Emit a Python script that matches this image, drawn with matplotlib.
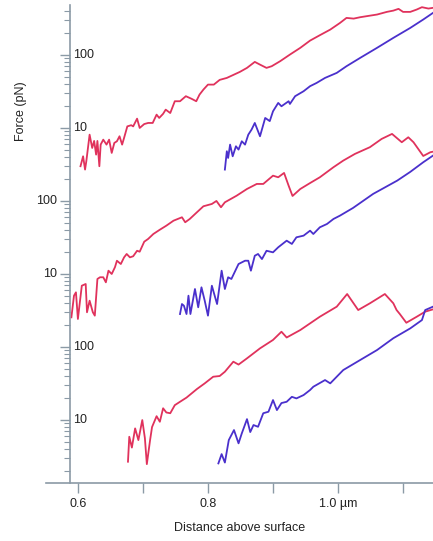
import numpy as np
import matplotlib
matplotlib.use("Agg")
import matplotlib.pyplot as plt
from matplotlib.ticker import FixedLocator, LogLocator, NullFormatter

plt.rcParams['font.family'] = ['Liberation Sans Narrow', 'Liberation Sans', 'DejaVu Sans']

# distance above surface (um) and force (pN) for each trace
top_red_x = [0.604, 0.608, 0.611, 0.613, 0.618, 0.622, 0.625, 0.628, 0.630, 0.633,
             0.635, 0.639, 0.644, 0.648, 0.652, 0.656, 0.660, 0.664, 0.668, 0.671,
             0.676, 0.682, 0.685, 0.691, 0.695, 0.702, 0.708, 0.715, 0.721, 0.725,
             0.731, 0.735, 0.742, 0.749, 0.757, 0.766, 0.775, 0.782, 0.787, 0.793,
             0.800, 0.809, 0.818, 0.829, 0.839, 0.849, 0.860, 0.872, 0.880, 0.890,
             0.898, 0.911, 0.926, 0.942, 0.957, 0.972, 0.988, 1.003, 1.013, 1.024,
             1.034, 1.044, 1.060, 1.075, 1.085, 1.093, 1.100, 1.111, 1.121, 1.129,
             1.139, 1.146]
top_red_f = [2.99, 4.09, 2.69, 3.53, 8.09, 5.32, 6.64, 4.31, 6.64, 2.99,
             5.91, 6.91, 5.91, 6.91, 4.55, 6.23, 6.57, 7.69, 5.91, 7.30,
             10.5, 10.9, 10.5, 13.4, 10.0, 11.3, 11.7, 11.7, 15.2, 13.7,
             15.6, 17.8, 16.0, 23.2, 23.2, 27.2, 25.0, 23.2, 28.6, 33.5,
             39.2, 39.2, 45.5, 48.4, 53.2, 58.5, 66.4, 80.2, 73.6, 66.4,
             70.0, 82.0, 101, 125, 157, 186, 222, 274, 321, 314,
             328, 339, 357, 388, 404, 427, 388, 388, 418, 450,
             431, 441]

top_blue_x = [0.826, 0.829, 0.831, 0.834, 0.838, 0.843, 0.847, 0.852, 0.857, 0.862,
              0.867, 0.872, 0.880, 0.888, 0.895, 0.900, 0.908, 0.913, 0.924, 0.926,
              0.934, 0.947, 0.957, 0.967, 0.980, 0.998, 1.013, 1.034, 1.060, 1.085,
              1.111, 1.131, 1.146]
top_blue_f = [2.69, 4.80, 3.88, 5.91, 4.09, 5.61, 5.05, 6.57, 5.91, 8.09,
              9.48, 11.7, 7.69, 13.7, 12.4, 16.9, 22.0, 19.8, 23.2, 21.3,
              27.2, 31.8, 37.3, 41.3, 48.4, 56.7, 70.0, 91.0, 125, 171,
              234, 305, 376]

mid_red_x = [0.590, 0.594, 0.597, 0.600, 0.606, 0.612, 0.614, 0.618, 0.623, 0.626,
             0.630, 0.634, 0.639, 0.643, 0.647, 0.652, 0.657, 0.660, 0.666, 0.671,
             0.675, 0.680, 0.685, 0.691, 0.695, 0.702, 0.708, 0.716, 0.726, 0.736,
             0.747, 0.760, 0.765, 0.772, 0.783, 0.793, 0.806, 0.813, 0.820, 0.826,
             0.844, 0.860, 0.875, 0.885, 0.900, 0.908, 0.917, 0.924, 0.930, 0.942,
             0.957, 0.972, 0.993, 1.008, 1.026, 1.049, 1.067, 1.083, 1.098, 1.108,
             1.116, 1.131, 1.142, 1.146]
mid_red_f = [2.55, 5.05, 5.61, 2.42, 6.91, 7.30, 2.99, 4.31, 2.99, 2.69,
             8.55, 9.02, 9.02, 7.69, 11.1, 10.0, 12.4, 15.2, 13.7, 16.9,
             18.8, 16.9, 17.5, 20.8, 20.2, 27.7, 30.2, 35.3, 40.4, 45.9,
             53.7, 59.8, 51.1, 56.7, 70.0, 84.6, 91.0, 100, 82.0, 95.9,
             118, 146, 171, 171, 222, 211, 242, 162, 117, 146,
             176, 211, 290, 357, 441, 545, 707, 828, 637, 745,
             637, 413, 465, 473]

mid_blue_x = [0.757, 0.760, 0.763, 0.767, 0.770, 0.773, 0.780, 0.785, 0.790, 0.795,
              0.800, 0.806, 0.811, 0.814, 0.821, 0.826, 0.831, 0.836, 0.847, 0.857,
              0.862, 0.866, 0.872, 0.877, 0.883, 0.890, 0.900, 0.908, 0.921, 0.929,
              0.936, 0.947, 0.957, 0.962, 0.972, 0.983, 0.993, 1.003, 1.023, 1.054,
              1.091, 1.111, 1.131, 1.146]
mid_blue_f = [2.83, 3.88, 3.68, 2.83, 5.05, 2.83, 6.23, 3.50, 6.57, 4.31,
              2.69, 6.91, 4.80, 3.88, 11.1, 6.23, 9.02, 8.55, 13.7, 15.2,
              15.2, 11.1, 17.8, 18.8, 16.0, 20.8, 19.8, 23.2, 28.6, 25.8,
              31.8, 33.5, 39.2, 35.3, 43.6, 48.4, 56.7, 63.0, 80.2, 125,
              190, 250, 339, 418]

low_red_x = [0.677, 0.679, 0.683, 0.688, 0.693, 0.699, 0.703, 0.706, 0.711, 0.714,
             0.721, 0.726, 0.731, 0.736, 0.742, 0.749, 0.757, 0.767, 0.783, 0.795,
             0.808, 0.818, 0.826, 0.839, 0.847, 0.860, 0.880, 0.900, 0.913, 0.921,
             0.942, 0.972, 0.998, 1.014, 1.031, 1.049, 1.072, 1.085, 1.090, 1.095,
             1.105, 1.121, 1.134, 1.146]
low_red_f = [2.69, 5.91, 4.20, 7.69, 5.32, 10.0, 5.66, 2.49, 5.32, 8.02,
             11.3, 9.48, 14.5, 12.7, 12.4, 16.0, 17.8, 20.3, 26.6, 31.8,
             39.2, 40.1, 45.9, 63.0, 57.5, 70.0, 95.9, 125, 162, 135,
             171, 260, 357, 532, 321, 397, 532, 397, 321, 283,
             215, 260, 305, 328]

low_blue_x = [0.816, 0.821, 0.826, 0.832, 0.840, 0.847, 0.852, 0.860, 0.865, 0.870,
              0.877, 0.885, 0.893, 0.900, 0.906, 0.913, 0.921, 0.929, 0.936, 0.947,
              0.957, 0.962, 0.980, 0.988, 1.008, 1.034, 1.060, 1.085, 1.111, 1.129,
              1.134, 1.146]
low_blue_f = [2.55, 3.42, 2.62, 5.32, 7.30, 4.80, 6.57, 10.3, 6.85, 8.55,
              8.09, 12.4, 13.0, 18.8, 13.7, 17.1, 17.8, 20.8, 19.8, 22.0,
              25.8, 28.6, 35.3, 31.8, 48.4, 66.4, 91.0, 132, 180, 234,
              321, 357]

x_ticks = [0.6, 0.7, 0.8, 0.9, 1.0, 1.1]
x_tick_labels = ['0.6', '', '0.8', '', '1.0 µm', '']

# each panel is stacked two decades above the one below it
panel_shift = [1e4, 1e2, 1]
panels = [(top_red_x, top_red_f, top_blue_x, top_blue_f),
          (mid_red_x, mid_red_f, mid_blue_x, mid_blue_f),
          (low_red_x, low_red_f, low_blue_x, low_blue_f)]

red = '#e0325c'
blue = '#4a30cc'
axis_col = '#8b9aa6'
text_col = '#222222'

fig = plt.figure(figsize=(4.33, 5.41), dpi=100)
ax = fig.add_axes([0.106, 0.107, 0.894, 0.884])

for shift, (rx, rf, bx, bf) in zip(panel_shift, panels):
    ax.plot(rx, np.array(rf) * shift, color=red, lw=1.3, solid_joinstyle='round')
    ax.plot(bx, np.array(bf) * shift, color=blue, lw=1.3, solid_joinstyle='round')

ax.set_yscale('log')
ax.set_ylim(1.37, 10 ** 6.685)
ax.set_xlim(0.5508, 1.146)

for s in ['top', 'right']:
    ax.spines[s].set_visible(False)
ax.spines['left'].set_position(('data', 0.588))
ax.spines['left'].set_color(axis_col)
ax.spines['bottom'].set_color(axis_col)
ax.spines['left'].set_linewidth(1.2)
ax.spines['bottom'].set_linewidth(1.2)

ax.yaxis.set_major_locator(FixedLocator([10, 1e2, 1e3, 1e4, 1e5, 1e6]))
ax.yaxis.set_minor_locator(LogLocator(base=10, subs=np.arange(2, 10)))
ax.yaxis.set_major_formatter(NullFormatter())
ax.yaxis.set_minor_formatter(NullFormatter())
ax.tick_params(axis='y', which='major', length=7, width=1, color=axis_col, direction='out')
ax.tick_params(axis='y', which='minor', length=4, width=0.8, color=axis_col, direction='out')

ax.set_xticks(x_ticks)
ax.set_xticklabels(x_tick_labels)
ax.tick_params(axis='x', length=7, width=1, color=axis_col, labelcolor=text_col,
               labelsize=9, pad=4)

tick_vals = [1e6, 1e5, 1e4, 1e3, 1e2, 10]
tick_text = ['100', '10', '100', '10', '100', '10']
for v, t in zip(tick_vals, tick_text):
    if v in (1e4, 1e3):
        ax.text(0.5685, v, t, ha='right', va='center', fontsize=9, color=text_col)
    else:
        ax.text(0.5925, v, t, ha='left', va='center', fontsize=9, color=text_col)

fig.text(0.048, 0.795, 'Force (pN)', rotation=90, ha='center', va='center',
         fontsize=9, color=text_col)
fig.text(0.554, 0.024, 'Distance above surface', ha='center', va='center',
         fontsize=9, color=text_col)

fig.savefig('out.png', dpi=100)
